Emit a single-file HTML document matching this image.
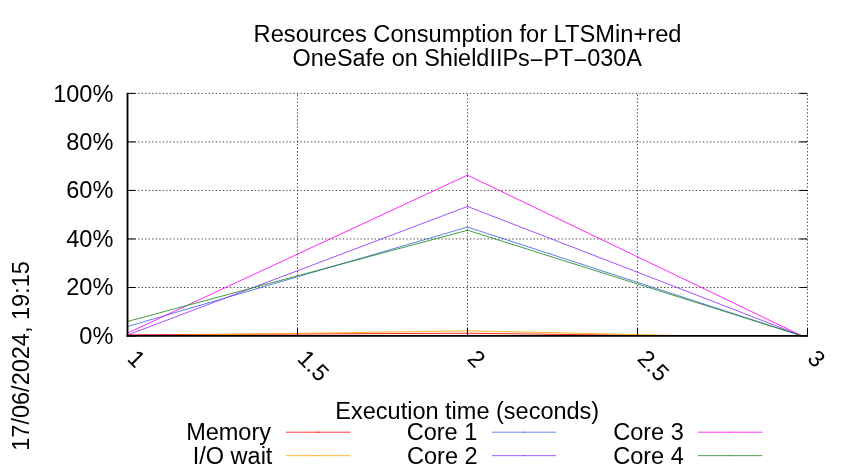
<!DOCTYPE html>
<html lang="en"><head><meta charset="utf-8"><title>Resources Consumption for LTSMin+red</title>
<style>html,body{margin:0;padding:0;background:#fff;}body{width:850px;height:475px;overflow:hidden;}svg{display:block;will-change:transform;}text{font-family:"Liberation Sans",Arial,Helvetica,sans-serif;font-size:23.5px;fill:#000;}</style></head><body>
<svg width="850" height="475" viewBox="0 0 850 475">
<rect width="850" height="475" fill="#fff"/>
<g stroke="#000" stroke-width="0.75" stroke-dasharray="1.35 2.18" fill="none">
<line x1="127.50" y1="287.48" x2="807.45" y2="287.48"/>
<line x1="127.50" y1="238.96" x2="807.45" y2="238.96"/>
<line x1="127.50" y1="190.44" x2="807.45" y2="190.44"/>
<line x1="127.50" y1="141.92" x2="807.45" y2="141.92"/>
<line x1="127.50" y1="93.40" x2="807.45" y2="93.40"/>
<line x1="297.49" y1="336.00" x2="297.49" y2="93.40"/>
<line x1="467.48" y1="336.00" x2="467.48" y2="93.40"/>
<line x1="637.46" y1="336.00" x2="637.46" y2="93.40"/>
<line x1="807.45" y1="336.00" x2="807.45" y2="93.40"/>
</g>
<clipPath id="pc"><rect x="127.50" y="80" width="680.95" height="255.00"/></clipPath>
<g fill="none" stroke-width="0.85" stroke-linejoin="round" clip-path="url(#pc)">
<polyline stroke="#ff0000" points="127.50,334.79 467.48,333.21 685.06,336.00 802.35,336.00"/>
<circle cx="127.50" cy="334.79" r="0.65" fill="#ff0000" stroke="none"/>
<circle cx="467.48" cy="333.21" r="0.65" fill="#ff0000" stroke="none"/>
<polyline stroke="#ffa500" points="127.50,336.00 467.48,330.81 702.06,336.00 802.35,336.00"/>
<circle cx="127.50" cy="336.00" r="0.65" fill="#ffa500" stroke="none"/>
<circle cx="467.48" cy="330.81" r="0.65" fill="#ffa500" stroke="none"/>
<polyline stroke="#4169e1" points="127.50,326.54 467.48,227.07 802.35,336.00"/>
<circle cx="127.50" cy="326.54" r="0.65" fill="#4169e1" stroke="none"/>
<circle cx="467.48" cy="227.07" r="0.65" fill="#4169e1" stroke="none"/>
<polyline stroke="#9433ff" points="127.50,335.03 467.48,206.45 802.35,336.00"/>
<circle cx="127.50" cy="335.03" r="0.65" fill="#9433ff" stroke="none"/>
<circle cx="467.48" cy="206.45" r="0.65" fill="#9433ff" stroke="none"/>
<polyline stroke="#ff00ff" points="127.50,333.09 467.48,175.16 802.35,336.00"/>
<circle cx="127.50" cy="333.09" r="0.65" fill="#ff00ff" stroke="none"/>
<circle cx="467.48" cy="175.16" r="0.65" fill="#ff00ff" stroke="none"/>
<polyline stroke="#228b22" points="127.50,321.44 467.48,230.23 802.35,336.00"/>
<circle cx="127.50" cy="321.44" r="0.65" fill="#228b22" stroke="none"/>
<circle cx="467.48" cy="230.23" r="0.65" fill="#228b22" stroke="none"/>
</g>
<g stroke="#000" stroke-width="1" fill="none">
<line x1="127.50" y1="336.00" x2="135.50" y2="336.00"/>
<line x1="807.45" y1="336.00" x2="799.45" y2="336.00"/>
<line x1="127.50" y1="287.48" x2="135.50" y2="287.48"/>
<line x1="807.45" y1="287.48" x2="799.45" y2="287.48"/>
<line x1="127.50" y1="238.96" x2="135.50" y2="238.96"/>
<line x1="807.45" y1="238.96" x2="799.45" y2="238.96"/>
<line x1="127.50" y1="190.44" x2="135.50" y2="190.44"/>
<line x1="807.45" y1="190.44" x2="799.45" y2="190.44"/>
<line x1="127.50" y1="141.92" x2="135.50" y2="141.92"/>
<line x1="807.45" y1="141.92" x2="799.45" y2="141.92"/>
<line x1="127.50" y1="93.40" x2="135.50" y2="93.40"/>
<line x1="807.45" y1="93.40" x2="799.45" y2="93.40"/>
<line x1="127.50" y1="336.00" x2="127.50" y2="328.00"/>
<line x1="297.49" y1="336.00" x2="297.49" y2="328.00"/>
<line x1="467.48" y1="336.00" x2="467.48" y2="328.00"/>
<line x1="637.46" y1="336.00" x2="637.46" y2="328.00"/>
<line x1="807.45" y1="336.00" x2="807.45" y2="328.00"/>
</g>
<line x1="127.50" y1="92.90" x2="127.50" y2="336.65" stroke="#000" stroke-width="1.85"/>
<line x1="126.50" y1="335.80" x2="807.95" y2="335.80" stroke="#000" stroke-width="1.7"/>
<text x="113.3" y="343.80" text-anchor="end">0%</text>
<text x="113.3" y="295.28" text-anchor="end">20%</text>
<text x="113.3" y="246.76" text-anchor="end">40%</text>
<text x="113.3" y="198.44" text-anchor="end">60%</text>
<text x="113.3" y="149.72" text-anchor="end">80%</text>
<text x="113.3" y="101.70" text-anchor="end">100%</text>
<text transform="translate(126.20,359.8) rotate(45)">1</text>
<text transform="translate(296.19,359.8) rotate(45)">1.5</text>
<text transform="translate(466.18,359.8) rotate(45)">2</text>
<text transform="translate(636.16,359.8) rotate(45)">2.5</text>
<text transform="translate(806.15,359.8) rotate(45)">3</text>
<text x="467.55" y="42.3" text-anchor="middle" textLength="427.9" lengthAdjust="spacingAndGlyphs">Resources Consumption for LTSMin+red</text>
<text x="467.25" y="65.8" text-anchor="middle" textLength="349.3" lengthAdjust="spacingAndGlyphs">OneSafe on ShieldIIPs<tspan dy="2.4">−</tspan><tspan dy="-2.4">PT</tspan><tspan dy="2.4">−</tspan><tspan dy="-2.4">030A</tspan></text>
<text x="467.28" y="418.8" text-anchor="middle">Execution time (seconds)</text>
<text transform="translate(28.9,450.7) rotate(-90)">17/06/2024, 19:15</text>
<text x="271.00" y="439.90" text-anchor="end">Memory</text>
<line x1="286.00" y1="432.20" x2="350.30" y2="432.20" stroke="#ff0000" stroke-width="0.8"/>
<circle cx="318.30" cy="432.20" r="0.65" fill="#ff0000"/>
<text x="272.40" y="464.10" text-anchor="end">I/O wait</text>
<line x1="286.00" y1="455.65" x2="350.30" y2="455.65" stroke="#ffa500" stroke-width="0.8"/>
<circle cx="318.30" cy="455.65" r="0.65" fill="#ffa500"/>
<text x="477.30" y="439.90" text-anchor="end">Core 1</text>
<line x1="492.00" y1="432.20" x2="556.30" y2="432.20" stroke="#4169e1" stroke-width="0.8"/>
<circle cx="524.30" cy="432.20" r="0.65" fill="#4169e1"/>
<text x="477.60" y="464.10" text-anchor="end">Core 2</text>
<line x1="492.00" y1="455.65" x2="556.30" y2="455.65" stroke="#9433ff" stroke-width="0.8"/>
<circle cx="524.30" cy="455.65" r="0.65" fill="#9433ff"/>
<text x="683.80" y="439.90" text-anchor="end">Core 3</text>
<line x1="698.00" y1="432.20" x2="762.30" y2="432.20" stroke="#ff00ff" stroke-width="0.8"/>
<circle cx="730.30" cy="432.20" r="0.65" fill="#ff00ff"/>
<text x="683.80" y="464.10" text-anchor="end">Core 4</text>
<line x1="698.00" y1="455.65" x2="762.30" y2="455.65" stroke="#228b22" stroke-width="0.8"/>
<circle cx="730.30" cy="455.65" r="0.65" fill="#228b22"/>
</svg></body></html>
